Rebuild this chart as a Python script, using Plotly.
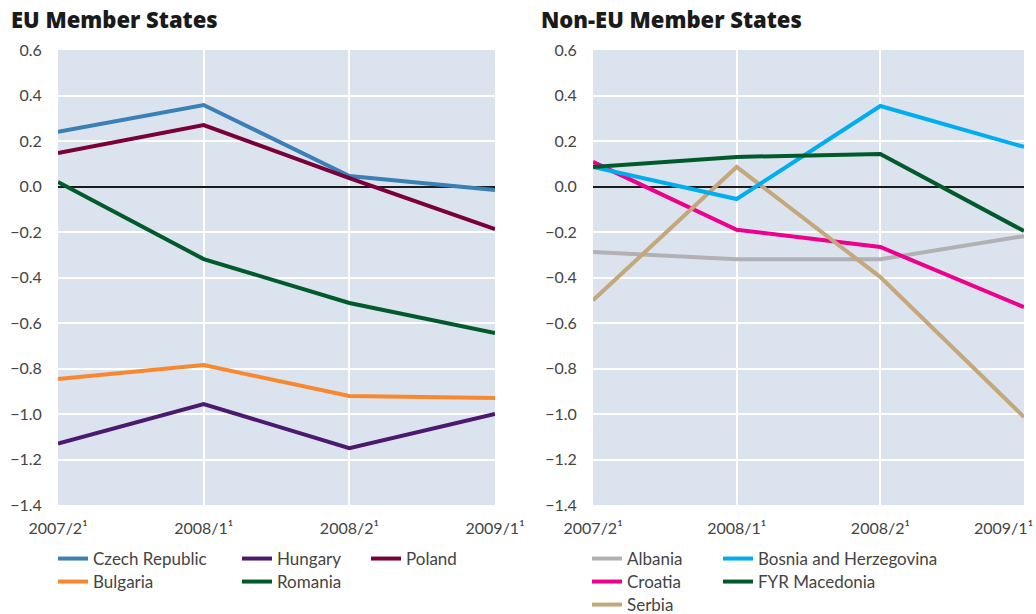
import plotly.graph_objects as go

periods = ["2007/2¹", "2008/1¹", "2008/2¹", "2009/1¹"]
yticks = [0.6, 0.4, 0.2, 0.0, -0.2, -0.4, -0.6, -0.8, -1.0, -1.2, -1.4]

# EU Member States
czech = [0.24, 0.358, 0.046, -0.015]
poland = [0.147, 0.27, 0.037, -0.187]
romania = [0.02, -0.319, -0.512, -0.644]
bulgaria = [-0.846, -0.785, -0.921, -0.93]
hungary = [-1.13, -0.956, -1.15, -1.0]

# Non-EU Member States
albania = [-0.288, -0.32, -0.32, -0.218]
bosnia = [0.086, -0.055, 0.354, 0.174]
croatia = [0.108, -0.19, -0.266, -0.53]
macedonia = [0.086, 0.13, 0.143, -0.196]
serbia = [-0.5, 0.086, -0.398, -1.013]

W, H = 1036, 614
xs = list(range(len(periods)))
top, bottom = 50, 505

font = "Lato, 'Open Sans', sans-serif"
tickfont = dict(family=font, size=16, color="#444444")
legfont = dict(family=font, size=17, color="#444444")

def ypaper(ypx):
    return (bottom - ypx) / (bottom - top)

fig = go.Figure()
legends = {}

# (name, values, colour, axis, legend x px, legend top px)
series = [
    ("Czech Republic", czech, "#3a7fb5", 1, 53, 541),
    ("Bulgaria", bulgaria, "#f7882f", 1, 53, 564),
    ("Hungary", hungary, "#4b1a6e", 1, 237, 541),
    ("Romania", romania, "#005a2b", 1, 237, 564),
    ("Poland", poland, "#7a0039", 1, 366, 541),
    ("Albania", albania, "#b1b1b4", 2, 587, 541),
    ("Croatia", croatia, "#ec008c", 2, 587, 564),
    ("Serbia", serbia, "#c4a77a", 2, 587, 587),
    ("Bosnia and Herzegovina", bosnia, "#00aeef", 2, 718, 541),
    ("FYR Macedonia", macedonia, "#005a2b", 2, 718, 564),
]

for i, (name, vals, color, ax, lx, ly) in enumerate(series):
    key = "legend" if i == 0 else f"legend{i + 1}"
    fig.add_trace(go.Scatter(x=xs, y=vals, mode="lines", name=name,
                             line=dict(color=color, width=4),
                             xaxis="x" if ax == 1 else "x2",
                             yaxis="y" if ax == 1 else "y2",
                             legend=key))
    legends[key] = dict(x=lx / W, y=ypaper(ly), xref="paper", yref="paper",
                        xanchor="left", yanchor="top", orientation="v",
                        font=legfont, bgcolor="rgba(0,0,0,0)", itemwidth=30)

xcommon = dict(range=[0, 3], tickvals=xs, showgrid=True,
               gridcolor="white", gridwidth=2, zeroline=False, showline=False,
               ticks="outside", ticklen=9, tickcolor="rgba(0,0,0,0)",
               tickfont=tickfont, ticklabeloverflow="allow")
ycommon = dict(range=[-1.4, 0.6], tickvals=yticks, tickformat=".1f",
               showgrid=True, gridcolor="white", gridwidth=2,
               zeroline=True, zerolinecolor="#1a1a1a", zerolinewidth=2,
               showline=False, ticks="outside", ticklen=12,
               tickcolor="rgba(0,0,0,0)", tickfont=tickfont)

titlefont = dict(family="'Open Sans', Lato, sans-serif", size=22,
                 color="#1a1a1a", weight=800)

# right panel: last label is pulled inside the page edge
ticktext_right = periods[:-1] + [""]

fig.update_layout(
    width=W, height=H,
    margin=dict(l=0, r=0, t=top, b=H - bottom, autoexpand=False),
    paper_bgcolor="white", plot_bgcolor="#dbe3ee",
    showlegend=True,
    xaxis=dict(domain=[58 / W, 495 / W], anchor="y", ticktext=periods, **xcommon),
    yaxis=dict(anchor="x", **ycommon),
    xaxis2=dict(domain=[593 / W, 1024 / W], anchor="y2", ticktext=ticktext_right, **xcommon),
    yaxis2=dict(anchor="x2", **ycommon),
    annotations=[
        dict(text="EU Member States", x=9 / W, y=ypaper(19), xref="paper",
             yref="paper", xanchor="left", yanchor="middle", showarrow=False,
             font=titlefont),
        dict(text="Non-EU Member States", x=539 / W, y=ypaper(19), xref="paper",
             yref="paper", xanchor="left", yanchor="middle", showarrow=False,
             font=titlefont),
        dict(text=periods[-1], x=1035 / W, y=ypaper(527), xref="paper",
             yref="paper", xanchor="right", yanchor="middle", showarrow=False,
             font=tickfont),
    ],
    **legends,
)

fig.write_html("out.html", config={"displayModeBar": False},
               post_script="document.body.style.margin='0';document.body.style.overflow='hidden';")
